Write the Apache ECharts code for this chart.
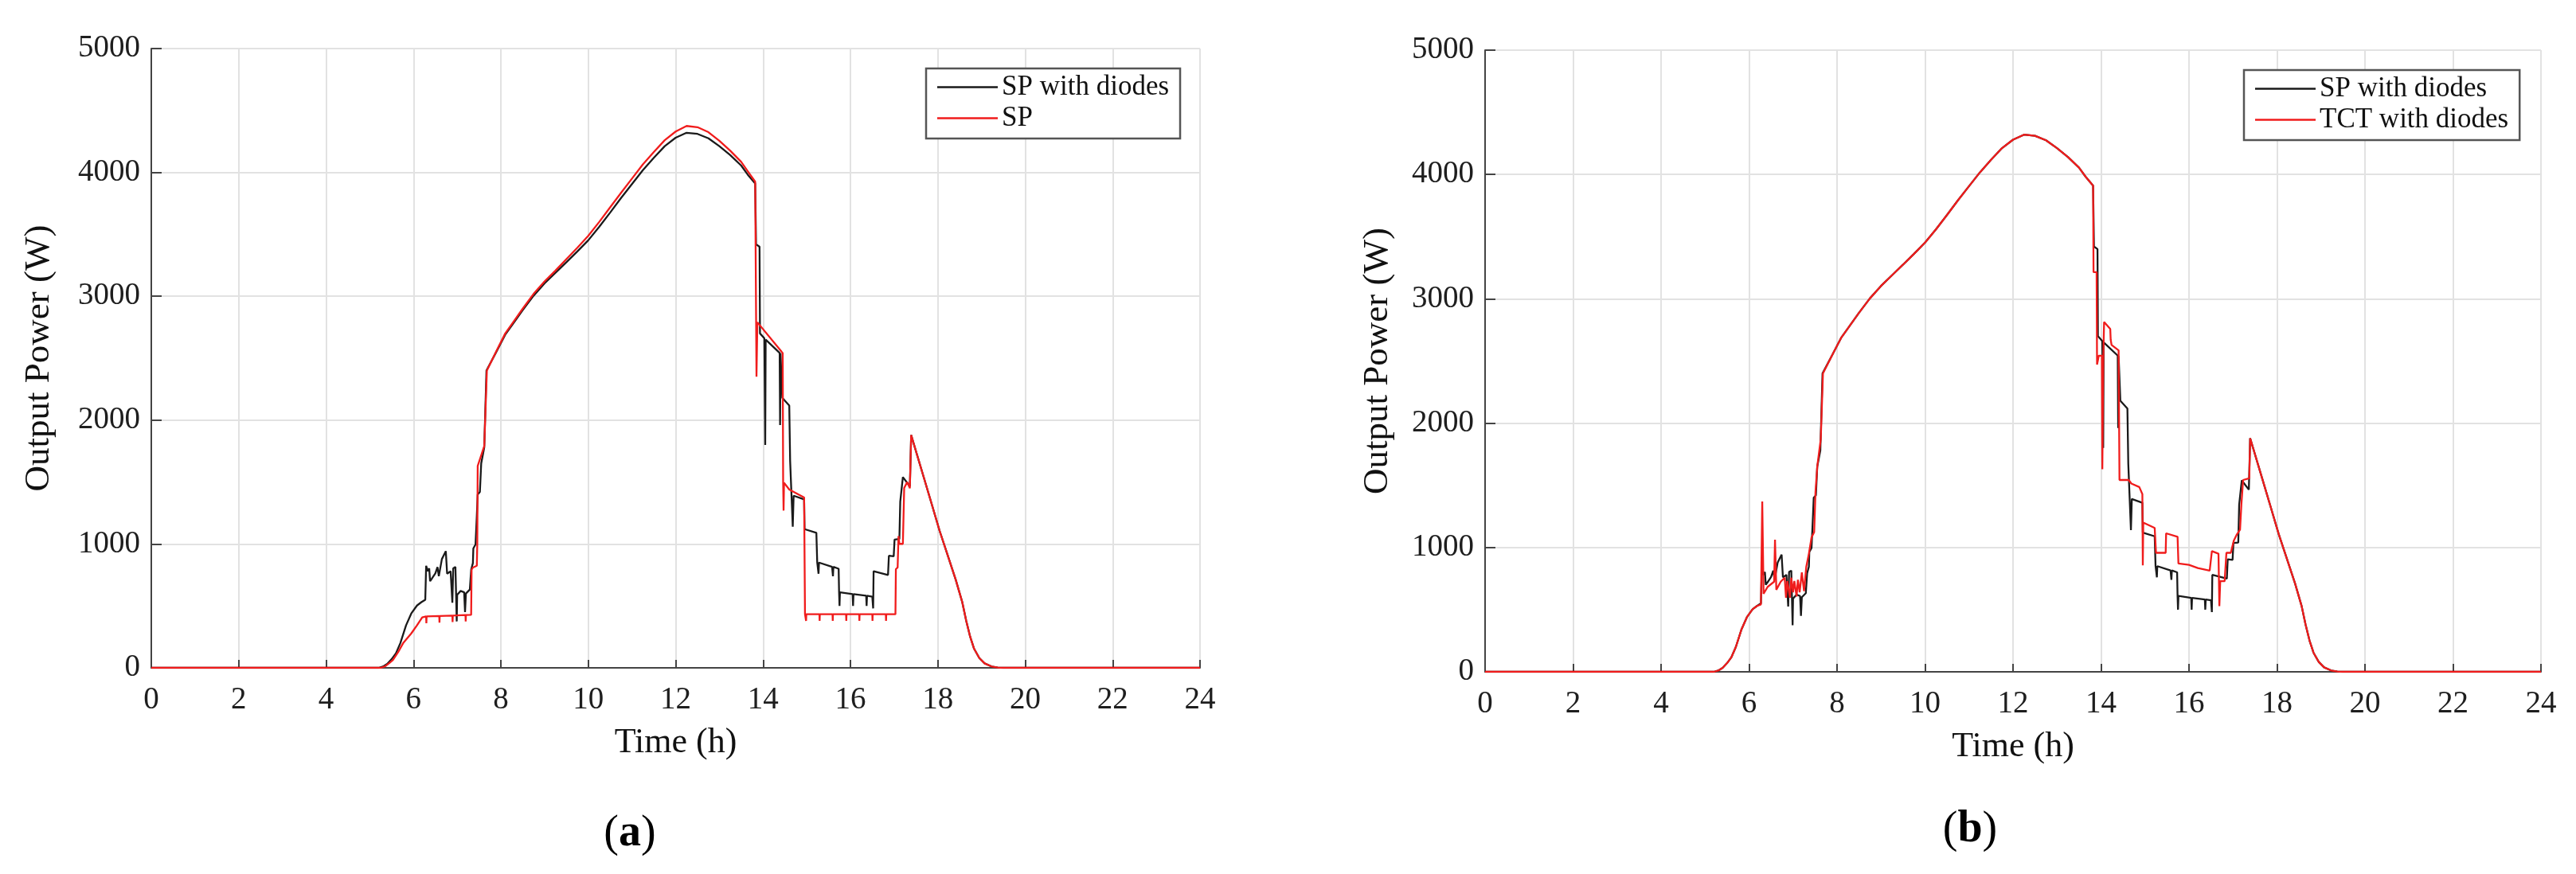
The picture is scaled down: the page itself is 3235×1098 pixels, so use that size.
<!DOCTYPE html>
<html><head><meta charset="utf-8">
<script src="https://cdn.jsdelivr.net/npm/echarts/dist/echarts.min.js"></script>
<style>html,body{margin:0;padding:0;background:#fff}#c{width:3235px;height:1098px}</style>
</head><body><div id="c"></div>
<script>
// Time (h), Output Power (W)
const spDiodes = [[0,0],[5.2,0],[5.3,10],[5.4,32],[5.5,70],[5.6,118],[5.7,200],[5.83,343],[5.95,439],[6.08,503],[6.18,530],[6.27,550],
[6.29,824],[6.33,780],[6.36,803],[6.38,700],[6.42,720],[6.50,762],[6.55,814],[6.58,740],[6.65,878],[6.74,942],[6.77,760],[6.85,780],[6.89,525],[6.91,803],[6.96,814],[6.99,375],[7.00,589],[7.08,621],[7.16,610],[7.18,450],[7.20,600],[7.29,632],[7.32,792],[7.36,846],[7.37,964],[7.42,996],[7.45,1231],[7.47,1400],[7.52,1420],[7.55,1650],[7.62,1780],[7.67,2400],
[7.9,2554],[8.1,2690],[8.3,2789],[8.5,2888],[8.75,3005],[9.0,3104],[9.25,3190],[9.5,3275],[9.75,3362],[10,3452],[10.25,3560],[10.5,3675],[10.75,3793],[11,3906],[11.25,4018],[11.5,4118],[11.75,4212],[12,4280],[12.25,4320],[12.5,4311],[12.75,4275],[13,4212],[13.25,4140],[13.5,4055],[13.65,3982],[13.82,3910],
[13.84,3420],[13.92,3400],[13.93,2700],[14.03,2660],[14.05,1800],[14.06,2650],[14.38,2543],[14.39,1960],[14.40,2540],[14.44,2180],[14.6,2117],[14.62,1672],[14.68,1140],[14.70,1390],[14.94,1360],[14.95,1120],[15.22,1090],[15.24,850],[15.27,760],[15.28,850],[15.58,815],[15.60,740],[15.61,815],[15.73,800],[15.74,610],[15.75,500],[15.76,610],[16.05,595],[16.06,500],[16.07,595],[16.36,582],[16.37,500],[16.38,582],[16.50,575],[16.52,480],[16.53,780],[16.86,750],[16.88,905],[16.99,900],[17.01,1036],[17.12,1040],[17.14,1343],[17.2,1540],[17.36,1465],[17.39,1879],
[17.68,1536],[17.86,1322],[18.04,1107],[18.22,915],[18.41,711],[18.56,529],[18.65,379],[18.74,251],[18.83,154],[18.95,79],[19.07,36],[19.23,11],[19.37,2],[19.5,0],[24,0]];

const spPlain = [[0,0],[5.25,0],[5.35,12],[5.45,40],[5.53,64],[5.65,128],[5.77,203],[5.95,278],[6.08,343],[6.2,407],[6.29,415],[6.295,360],[6.30,415],[6.59,418],[6.595,365],[6.60,418],[6.89,422],[6.895,370],[6.90,422],[7.19,426],[7.195,375],[7.20,426],[7.32,428],[7.33,792],[7.36,810],[7.45,824],[7.46,1000],[7.47,1630],[7.62,1790],[7.68,2400],
[7.9,2560],[8.1,2700],[8.3,2800],[8.5,2900],[8.75,3020],[9.0,3120],[9.25,3208],[9.5,3300],[9.75,3392],[10,3488],[10.25,3600],[10.5,3718],[10.75,3835],[11,3950],[11.25,4065],[11.5,4165],[11.75,4260],[12,4330],[12.25,4375],[12.5,4365],[12.75,4325],[13,4255],[13.25,4175],[13.5,4085],[13.65,4010],[13.82,3925],
[13.85,2350],[13.87,2790],[14.42,2554],[14.45,2540],[14.46,1495],[14.47,1270],[14.48,1495],[14.6,1440],[14.94,1375],[14.96,433],[14.98,433],[14.985,379],[14.99,433],[15.29,433],[15.295,379],[15.30,433],[15.59,433],[15.595,379],[15.60,433],[15.90,433],[15.905,379],[15.91,433],[16.20,433],[16.205,379],[16.21,433],[16.50,433],[16.505,379],[16.51,433],[16.81,433],[16.815,379],[16.82,433],[17.03,433],[17.04,797],[17.08,810],[17.1,1064],[17.12,1001],[17.2,1001],[17.23,1452],[17.3,1500],[17.36,1450],[17.39,1879],
[17.68,1536],[17.86,1322],[18.04,1107],[18.22,915],[18.41,711],[18.56,529],[18.65,379],[18.74,251],[18.83,154],[18.95,79],[19.07,36],[19.23,11],[19.37,2],[19.5,0],[24,0]];

const tctDiodes = [[0,0],[5.2,0],[5.3,10],[5.4,32],[5.5,70],[5.6,118],[5.7,200],[5.83,343],[5.95,439],[6.08,503],[6.18,530],[6.27,542],[6.30,1370],[6.33,628],[6.42,682],[6.57,725],[6.59,1062],[6.62,660],[6.72,725],[6.81,757],[6.84,596],[6.87,730],[6.93,596],[6.96,757],[7.0,640],[7.03,730],[7.08,606],[7.11,740],[7.15,640],[7.20,800],[7.25,649],[7.30,843],[7.36,950],[7.42,1080],[7.48,1123],[7.51,1445],[7.55,1650],[7.63,1871],[7.68,2401],
[7.9,2554],[8.1,2690],[8.3,2789],[8.5,2888],[8.75,3005],[9.0,3104],[9.25,3190],[9.5,3275],[9.75,3362],[10,3452],[10.25,3560],[10.5,3675],[10.75,3793],[11,3906],[11.25,4018],[11.5,4118],[11.75,4212],[12,4280],[12.25,4320],[12.5,4311],[12.75,4275],[13,4212],[13.25,4140],[13.5,4055],[13.65,3982],[13.82,3910],
[13.83,3214],[13.9,3214],[13.91,2471],[13.95,2543],[14.02,2543],[14.03,1629],[14.05,2500],[14.07,2814],[14.21,2757],[14.22,2671],[14.24,2629],[14.40,2586],[14.42,1543],[14.63,1543],[14.69,1514],[14.87,1486],[14.94,1429],[14.95,857],[14.96,1200],[15.22,1157],[15.25,957],[15.47,957],[15.48,1114],[15.74,1086],[15.76,871],[16.0,860],[16.2,835],[16.47,814],[16.52,971],[16.67,950],[16.69,529],[16.71,729],[16.81,729],[16.85,957],[16.95,957],[17.02,1057],[17.08,1100],[17.16,1143],[17.19,1343],[17.23,1543],[17.37,1557],[17.39,1879],
[17.68,1536],[17.86,1322],[18.04,1107],[18.22,915],[18.41,711],[18.56,529],[18.65,379],[18.74,251],[18.83,154],[18.95,79],[19.07,36],[19.23,11],[19.37,2],[19.5,0],[24,0]];

const xMin = 0, xMax = 24, xStep = 2;
const yMin = 0, yMax = 5000, yStep = 1000;
const legendA = ['SP with diodes','SP'];
const legendB = ['SP with diodes','TCT with diodes'];

const FONT = 'Liberation Serif';
const chart = echarts.init(document.getElementById('c'), null, {renderer:'canvas'});

function xAx(i, gap){
  return {type:'value', gridIndex:i, min:xMin, max:xMax, interval:xStep,
    name:'Time (h)', nameLocation:'middle', nameGap:gap,
    nameTextStyle:{fontFamily:FONT, fontSize:44, color:'#111'},
    axisLine:{show:true, onZero:false, lineStyle:{color:'#444', width:2}},
    axisTick:{show:true, inside:true, length:10, lineStyle:{color:'#444', width:2}},
    axisLabel:{fontFamily:FONT, fontSize:39, color:'#1e1e1e', margin:21, formatter:v=>String(v)},
    splitLine:{show:true, lineStyle:{color:'#e2e2e2', width:2}}};
}
function yAx(i, gap){
  return {type:'value', gridIndex:i, min:yMin, max:yMax, interval:yStep,
    name:'Output Power (W)', nameLocation:'middle', nameGap:gap,
    nameTextStyle:{fontFamily:FONT, fontSize:45, color:'#111'},
    axisLine:{show:true, lineStyle:{color:'#444', width:2}},
    axisTick:{show:true, inside:true, length:13, lineStyle:{color:'#444', width:2}},
    axisLabel:{fontFamily:FONT, fontSize:39, color:'#1e1e1e', margin:14, formatter:v=>String(v)},
    splitLine:{show:true, lineStyle:{color:'#e2e2e2', width:2}}};
}
function ser(name, data, color, i){
  return {type:'line', name:name, data:data, xAxisIndex:i, yAxisIndex:i,
    symbol:'none', showSymbol:false, lineStyle:{color:color, width:2.3}, itemStyle:{color:color},
    emphasis:{disabled:true}, animation:false};
}
function leg(names, left, top){
  return {data:names, orient:'vertical', left:left, top:top, icon:'rect',
    padding:[6,14,8,14], itemGap:4, itemWidth:76, itemHeight:2.5,
    borderColor:'#555', borderWidth:2.5, backgroundColor:'#fff',
    textStyle:{fontFamily:FONT, fontSize:35, color:'#111', lineHeight:35}, selectedMode:false};
}
const label = (letter, x, y) => ({type:'text', x:x, y:y,
  style:{text:'{p|(}{b|'+letter+'}{p|)}', align:'center', verticalAlign:'middle',
    rich:{p:{fontFamily:FONT, fontSize:56, color:'#111'}, b:{fontFamily:FONT, fontSize:56, fontWeight:'bold', color:'#111'}}}});

chart.setOption({
  animation:false,
  backgroundColor:'#fff',
  grid:[{left:190, top:61, width:1317, height:778},
        {left:1865, top:63, width:1326, height:781}],
  xAxis:[xAx(0,72), xAx(1,72)],
  yAxis:[yAx(0,118), yAx(1,112)],
  legend:[leg(legendA,1163,86), leg(legendB,2818,88)],
  series:[ser('SP with diodes', spDiodes, '#1a1a1a', 0), ser('SP', spPlain, '#f01c1c', 0),
          ser('SP with diodes', spDiodes, '#1a1a1a', 1), ser('TCT with diodes', tctDiodes, '#f01c1c', 1)],
  graphic:[label('a', 791, 1048), label('b', 2474, 1043)]
});
</script></body></html>
